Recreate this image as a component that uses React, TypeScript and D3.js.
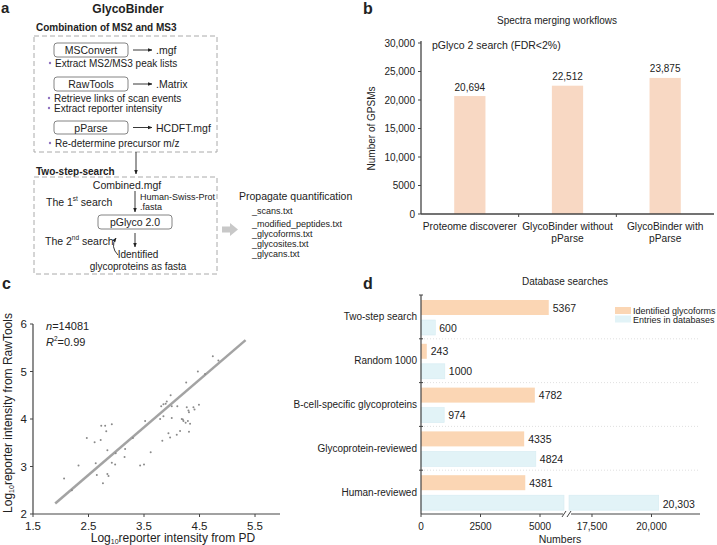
import React from "react";
import * as d3 from "d3";

// ---------- Panel b data ----------
const bCategories = ["Proteome discoverer", "GlycoBinder without\npParse", "GlycoBinder with\npParse"];
const bValues = [20694, 22512, 23875];
const bTicks = [0, 5000, 10000, 15000, 20000, 25000, 30000];

// ---------- Panel c data ----------
const cXTicks = [1.5, 2.5, 3.5, 4.5, 5.5];
const cYTicks = [2, 3, 4, 5, 6];
const cPointsX = [2.06, 2.32, 2.47, 2.61, 2.63, 2.65, 2.72, 2.73, 2.8, 2.82, 2.76, 2.84, 2.84, 2.86, 2.92, 2.92, 2.98, 2.99, 3.16, 3.15, 3.43, 3.5, 3.52, 3.62, 3.79, 3.83, 3.85, 3.81, 3.85, 3.89, 3.91, 3.98, 4.0, 4.0, 3.94, 3.97, 4.1, 4.09, 4.15, 4.18, 4.2, 4.21, 4.25, 4.27, 4.26, 4.29, 4.3, 4.31, 4.33, 4.31, 4.39, 4.41, 4.49, 4.47, 4.74, 4.84, 2.2, 3.3, 4.6];
const cPointsY = [2.75, 3.02, 3.6, 3.51, 3.07, 2.82, 3.56, 3.86, 3.86, 3.74, 2.65, 3.34, 2.84, 2.8, 3.89, 3.08, 3.04, 3.28, 3.37, 3.2, 3.02, 3.04, 3.96, 3.3, 4.0, 3.54, 4.06, 4.27, 4.31, 4.32, 4.37, 4.5, 4.27, 4.02, 3.7, 3.61, 4.27, 3.67, 3.75, 4.0, 3.99, 3.96, 3.92, 4.25, 4.77, 3.96, 4.18, 4.14, 3.9, 3.73, 4.25, 4.2, 4.3, 5.0, 5.32, 5.23, 2.5, 3.6, 4.95];
const cFitX = [1.9, 5.33];
const cFitY = [2.22, 5.66];

// ---------- Panel d data ----------
const dCategories = ["Two-step search", "Random 1000", "B-cell-specific glycoproteins", "Glycoprotein-reviewed", "Human-reviewed"];
const dGlycoforms = [5367, 243, 4782, 4335, 4381];
const dEntries = [600, 1000, 974, 4824, 20303];
const dTicks = [0, 2500, 5000, 17500, 20000];
const dSeries = ["Identified glycoforms", "Entries in databases"];

const FONT = "Liberation Sans, Arial, Helvetica, sans-serif";
const AXIS = "#444";
const ORANGE_B = "#f8d8c3";
const ORANGE = "#fbd6b4";
const BLUE = "#e2f3f7";
const PURPLE = "#8f72c0";

const fmt = (v: number) => (v >= 10000 ? d3.format(",")(v) : String(v));

function PanelA() {
  const box = (x: number, y: number, w: number, h: number, label: string, out: string) => (
    <g>
      <rect x={x} y={y} width={w} height={h} rx={3} fill="none" stroke="#777" strokeWidth={0.9} />
      <text x={x + w / 2} y={y + h / 2} textAnchor="middle" dominantBaseline="central" fontSize={10.5}>{label}</text>
      <line x1={x + w + 5} y1={y + h / 2} x2={x + w + 24} y2={y + h / 2} stroke="#222" strokeWidth={0.9} markerEnd="url(#ah)" />
      <text x={x + w + 28} y={y + h / 2} dominantBaseline="central" fontSize={10.5}>{out}</text>
    </g>
  );
  const bullet = (x: number, y: number, t: string) => (
    <g>
      <circle cx={x} cy={y} r={1.2} fill={PURPLE} />
      <text x={x + 5} y={y} dominantBaseline="central" fontSize={10}>{t}</text>
    </g>
  );
  return (
    <g fontFamily={FONT} fill="#222">
      <text x={1} y={13} fontSize={15} fontWeight="bold">a</text>
      <text x={128} y={13} textAnchor="middle" fontSize={12} fontWeight="bold">GlycoBinder</text>
      <text x={36} y={31} fontSize={10} fontWeight="bold">Combination of MS2 and MS3</text>
      <rect x={34} y={36} width={183} height={116} fill="none" stroke="#aaa" strokeWidth={1} strokeDasharray="5,3" />
      {box(54, 43, 74, 14, "MSConvert", ".mgf")}
      {bullet(50, 63, "Extract MS2/MS3 peak lists")}
      {box(54, 77, 74, 14, "RawTools", ".Matrix")}
      {bullet(49, 98, "Retrieve links of scan events")}
      {bullet(49, 108, "Extract reporter intensity")}
      {box(54, 121, 74, 13, "pParse", "HCDFT.mgf")}
      {bullet(50, 143, "Re-determine precursor m/z")}
      <line x1={136} y1={152} x2={136} y2={174} stroke="#222" strokeWidth={0.9} markerEnd="url(#ah)" />
      <text x={36} y={175} fontSize={10} fontWeight="bold">Two-step-search</text>
      <rect x={34} y={177} width={183} height={97} fill="none" stroke="#aaa" strokeWidth={1} strokeDasharray="5,3" />
      <text x={127} y={185} textAnchor="middle" dominantBaseline="central" fontSize={10.5}>Combined.mgf</text>
      <line x1={135} y1={191} x2={135} y2={212} stroke="#222" strokeWidth={0.9} markerEnd="url(#ah)" />
      <text x={140} y={197} dominantBaseline="central" fontSize={9}>Human-Swiss-Prot</text>
      <text x={140} y={207} dominantBaseline="central" fontSize={9}>.fasta</text>
      <text x={46} y={202} dominantBaseline="central" fontSize={10.5}>The 1<tspan fontSize={6.5} dy={-4}>st</tspan><tspan dy={4}> search</tspan></text>
      <rect x={98} y={215} width={74} height={14} rx={3} fill="none" stroke="#777" strokeWidth={0.9} />
      <text x={135} y={222} textAnchor="middle" dominantBaseline="central" fontSize={10.5}>pGlyco 2.0</text>
      <text x={45} y={241} dominantBaseline="central" fontSize={10.5}>The 2<tspan fontSize={6.5} dy={-4}>nd</tspan><tspan dy={4}> search</tspan></text>
      <path d="M118,255 Q110,247 116,238" fill="none" stroke="#222" strokeWidth={0.9} markerEnd="url(#ah)" />
      <line x1={135} y1={233} x2={135} y2={247} stroke="#222" strokeWidth={0.9} markerEnd="url(#ah)" />
      <text x={138} y={254} textAnchor="middle" dominantBaseline="central" fontSize={10}>Identified</text>
      <text x={138} y={266} textAnchor="middle" dominantBaseline="central" fontSize={10}>glycoproteins as fasta</text>
      <path d="M222,226.5 L230,226.5 L230,223 L238,229.5 L230,236 L230,232.5 L222,232.5 Z" fill="#c8c8c8" />
      <text x={239} y={196} dominantBaseline="central" fontSize={10.5}>Propagate quantification</text>
      <text x={252} y={211} dominantBaseline="central" fontSize={9}>_scans.txt</text>
      <text x={252} y={224} dominantBaseline="central" fontSize={9}>_modified_peptides.txt</text>
      <text x={252} y={234} dominantBaseline="central" fontSize={9}>_glycoforms.txt</text>
      <text x={252} y={244} dominantBaseline="central" fontSize={9}>_glycosites.txt</text>
      <text x={252} y={254} dominantBaseline="central" fontSize={9}>_glycans.txt</text>
    </g>
  );
}

function PanelB() {
  const x = d3.scaleBand<string>().domain(bCategories).range([421, 714]);
  const y = d3.scaleLinear().domain([0, 30000]).range([214, 43]);
  const bw = x.bandwidth() * 0.32;
  return (
    <g fontFamily={FONT} fill="#222">
      <text x={363} y={14} fontSize={16} fontWeight="bold">b</text>
      <text x={557} y={20} textAnchor="middle" dominantBaseline="central" fontSize={10}>Spectra merging workflows</text>
      <text x={432} y={45} dominantBaseline="central" fontSize={10.5}>pGlyco 2 search (FDR&lt;2%)</text>
      <text transform={`translate(371,${y(15000)}) rotate(-90)`} textAnchor="middle" dominantBaseline="central" fontSize={10}>Number of GPSMs</text>
      {bCategories.map((c, i) => {
        const cx = (x(c) as number) + x.bandwidth() / 2;
        return (
          <g key={c}>
            <rect x={cx - bw / 2} y={y(bValues[i])} width={bw} height={y(0) - y(bValues[i])} fill={ORANGE_B} />
            <text x={cx} y={y(bValues[i]) - 9} textAnchor="middle" dominantBaseline="central" fontSize={10}>{d3.format(",")(bValues[i])}</text>
            {c.split("\n").map((t, j) => (
              <text key={j} x={cx} y={226 + j * 12.5} textAnchor="middle" dominantBaseline="central" fontSize={10.2}>{t}</text>
            ))}
          </g>
        );
      })}
      <line x1={421} y1={y(30000) - 2} x2={421} y2={y(0)} stroke={AXIS} strokeWidth={1.3} />
      {bTicks.map((t) => (
        <g key={t}>
          <line x1={418} x2={421} y1={y(t)} y2={y(t)} stroke={AXIS} strokeWidth={1} />
          <text x={415} y={y(t)} textAnchor="end" dominantBaseline="central" fontSize={10}>{fmt(t)}</text>
        </g>
      ))}
      <line x1={421} y1={y(0)} x2={714} y2={y(0)} stroke={AXIS} strokeWidth={1.3} />
      {bCategories.slice(1).map((c) => (
        <line key={c} x1={x(c) as number} x2={x(c) as number} y1={y(0)} y2={y(0) + 3} stroke={AXIS} strokeWidth={1} />
      ))}
    </g>
  );
}

function PanelC() {
  const x = d3.scaleLinear().domain([1.5, 5.95]).range([33, 280]);
  const y = d3.scaleLinear().domain([2, 6]).range([514, 324]);
  const line = d3.line<number>().x((_, i) => x(cFitX[i])).y((_, i) => y(cFitY[i]));
  return (
    <g fontFamily={FONT} fill="#222">
      <text x={2} y={289} fontSize={16} fontWeight="bold">c</text>
      <path d={line(cFitX) || ""} stroke="#a3a3a3" strokeWidth={2.5} fill="none" />
      {cPointsX.map((px, i) => (
        <circle key={i} cx={x(px)} cy={y(cPointsY[i])} r={1} fill="#8a8a8a" />
      ))}
      <line x1={x(1.5)} x2={x(1.5)} y1={y(6)} y2={y(2)} stroke={AXIS} strokeWidth={1.2} />
      <line x1={x(1.5)} x2={x(5.95)} y1={y(2)} y2={y(2)} stroke={AXIS} strokeWidth={1.2} />
      {cYTicks.map((t) => (
        <g key={t}>
          <line x1={x(1.5) - 3} x2={x(1.5)} y1={y(t)} y2={y(t)} stroke={AXIS} strokeWidth={1} />
          <text x={x(1.5) - 6} y={y(t)} textAnchor="end" dominantBaseline="central" fontSize={11.5}>{t}</text>
        </g>
      ))}
      {cXTicks.map((t) => (
        <g key={t}>
          <line x1={x(t)} x2={x(t)} y1={y(2)} y2={y(2) + 3} stroke={AXIS} strokeWidth={1} />
          <text x={x(t)} y={y(2) + 12} textAnchor="middle" dominantBaseline="central" fontSize={11.5}>{t}</text>
        </g>
      ))}
      <text x={46} y={326} dominantBaseline="central" fontSize={11}><tspan fontStyle="italic">n</tspan>=14081</text>
      <text x={46} y={342} dominantBaseline="central" fontSize={11}><tspan fontStyle="italic">R</tspan><tspan fontSize={6.5} dy={-4}>2</tspan><tspan dy={4}>=0.99</tspan></text>
      <text x={173} y={538} textAnchor="middle" dominantBaseline="central" fontSize={12}>Log<tspan fontSize={7} dy={3}>10</tspan><tspan dy={-3}>reporter intensity from PD</tspan></text>
      <text transform={`translate(8,413) rotate(-90)`} textAnchor="middle" dominantBaseline="central" fontSize={12}>Log<tspan fontSize={7} dy={3}>10</tspan><tspan dy={-3}>reporter intensity from RawTools</tspan></text>
    </g>
  );
}

function PanelD() {
  const yb = d3.scaleBand<string>().domain(dCategories).range([295, 514]);
  const s1 = d3.scaleLinear().domain([0, 6050]).range([421, 565]);
  const s2 = d3.scaleLinear().domain([16534, 22038]).range([569, 700]);
  const xv = (v: number) => (v <= 6050 ? s1(v) : s2(v));
  const bh = 15;
  const bar = (v: number, top: number, color: string, key: string) => {
    if (v <= 6050) {
      return <rect key={key} x={s1(0)} y={top} width={s1(v) - s1(0)} height={bh} fill={color} stroke={color === BLUE ? "#d6ecf2" : "none"} strokeWidth={0.6} />;
    }
    return (
      <g key={key}>
        <rect x={s1(0)} y={top} width={s1(6050) - s1(0) - 1} height={bh} fill={color} stroke="#d6ecf2" strokeWidth={0.6} />
        <rect x={s2(16534)} y={top} width={s2(v) - s2(16534)} height={bh} fill={color} stroke="#d6ecf2" strokeWidth={0.6} />
      </g>
    );
  };
  const axisY = 514;
  return (
    <g fontFamily={FONT} fill="#222">
      <text x={363} y={289} fontSize={16} fontWeight="bold">d</text>
      <text x={565} y={281} textAnchor="middle" dominantBaseline="central" fontSize={10}>Database searches</text>
      {dCategories.slice(1).map((c) => (
        <line key={c} x1={421} x2={700} y1={yb(c) as number} y2={yb(c) as number} stroke="#d8d8d8" strokeWidth={0.8} strokeDasharray="1,2" />
      ))}
      {dCategories.map((c, i) => {
        const top = yb(c) as number;
        const cy = top + yb.bandwidth() / 2;
        return (
          <g key={c}>
            {bar(dGlycoforms[i], top + 5, ORANGE, "o")}
            {bar(dEntries[i], top + 25, BLUE, "b")}
            <text x={xv(dGlycoforms[i]) + 4} y={top + 12.5} dominantBaseline="central" fontSize={10.5}>{fmt(dGlycoforms[i])}</text>
            <text x={xv(dEntries[i]) + 4} y={top + 32.5 + (dEntries[i] > 6050 ? 1 : 0)} dominantBaseline="central" fontSize={10.5}>{fmt(dEntries[i])}</text>
            <text x={417} y={cy} textAnchor="end" dominantBaseline="central" fontSize={10}>{c}</text>
          </g>
        );
      })}
      <line x1={421} x2={421} y1={295} y2={axisY} stroke={AXIS} strokeWidth={1.2} />
      {dCategories.map((c) => (
        <line key={c} x1={419} x2={423} y1={yb(c) as number} y2={yb(c) as number} stroke={AXIS} strokeWidth={1} />
      ))}
      <line x1={421} x2={563} y1={axisY} y2={axisY} stroke={AXIS} strokeWidth={1.2} />
      <line x1={571} x2={700} y1={axisY} y2={axisY} stroke={AXIS} strokeWidth={1.2} />
      <line x1={562} x2={566} y1={axisY + 3} y2={axisY - 3} stroke={AXIS} strokeWidth={1} />
      <line x1={567} x2={571} y1={axisY + 3} y2={axisY - 3} stroke={AXIS} strokeWidth={1} />
      {dTicks.map((t) => (
        <g key={t}>
          <line x1={xv(t)} x2={xv(t)} y1={axisY} y2={axisY + 3} stroke={AXIS} strokeWidth={1} />
          <text x={xv(t)} y={axisY + 12} textAnchor="middle" dominantBaseline="central" fontSize={10}>{fmt(t)}</text>
        </g>
      ))}
      <text x={560} y={538.5} textAnchor="middle" dominantBaseline="central" fontSize={10.5}>Numbers</text>
      <rect x={615} y={307} width={16} height={7} fill={ORANGE} />
      <text x={633} y={310.5} dominantBaseline="central" fontSize={9}>{dSeries[0]}</text>
      <rect x={615} y={315.5} width={16} height={7} fill={BLUE} />
      <text x={633} y={320} dominantBaseline="central" fontSize={9}>{dSeries[1]}</text>
    </g>
  );
}

export default function App() {
  return (
    <svg width={717} height={545} style={{ position: "absolute", left: 0, top: 0, background: "#fff" }}>
      <defs>
        <marker id="ah" viewBox="0 0 10 10" refX={9} refY={5} markerWidth={5} markerHeight={5} orient="auto">
          <path d="M0,1 L10,5 L0,9 Z" fill="#222" />
        </marker>
      </defs>
      <rect width={717} height={545} fill="#fff" />
      <PanelA />
      <PanelB />
      <PanelC />
      <PanelD />
    </svg>
  );
}
